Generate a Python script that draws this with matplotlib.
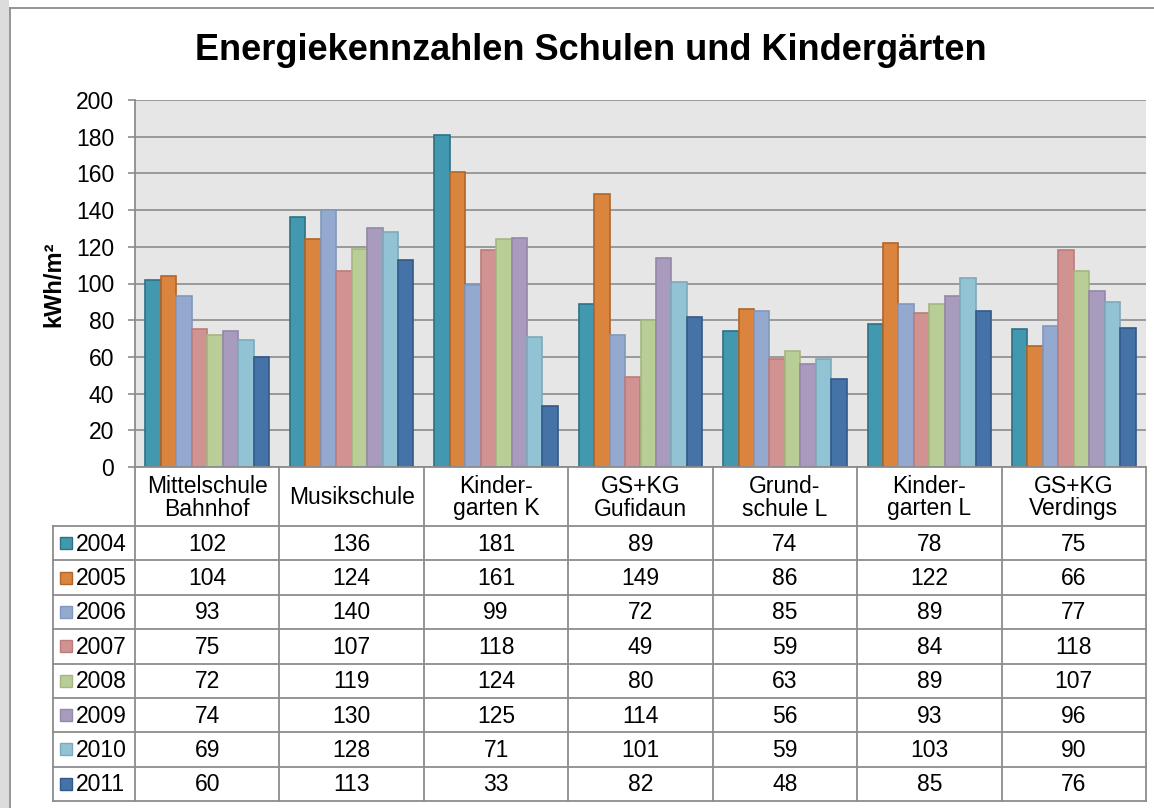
import matplotlib
matplotlib.use("Agg")
import matplotlib.pyplot as plt
from matplotlib.patches import Rectangle
from matplotlib.lines import Line2D

plt.rcParams['font.family'] = ['Liberation Sans', 'DejaVu Sans']

title = "Energiekennzahlen Schulen und Kindergärten"
ylabel = "kWh/m²"
categories = ["Mittelschule\nBahnhof", "Musikschule", "Kinder-\ngarten K", "GS+KG\nGufidaun",
              "Grund-\nschule L", "Kinder-\ngarten L", "GS+KG\nVerdings"]
years = ["2004", "2005", "2006", "2007", "2008", "2009", "2010", "2011"]
v2004 = [102, 136, 181, 89, 74, 78, 75]
v2005 = [104, 124, 161, 149, 86, 122, 66]
v2006 = [93, 140, 99, 72, 85, 89, 77]
v2007 = [75, 107, 118, 49, 59, 84, 118]
v2008 = [72, 119, 124, 80, 63, 89, 107]
v2009 = [74, 130, 125, 114, 56, 93, 96]
v2010 = [69, 128, 71, 101, 59, 103, 90]
v2011 = [60, 113, 33, 82, 48, 85, 76]
series = [v2004, v2005, v2006, v2007, v2008, v2009, v2010, v2011]
yticks = [0, 20, 40, 60, 80, 100, 120, 140, 160, 180, 200]

fills = ["#4198AF", "#DB843D", "#93A9CF", "#D19392", "#B9CD96", "#A99BBD", "#92C3D4", "#4572A7"]
edges = ["#2E7185", "#B0652A", "#8197BB", "#BA7D7C", "#A4B681", "#9587A8", "#7DAABB", "#33598A"]

W, H = 1154, 808
fig = plt.figure(figsize=(W / 100, H / 100), dpi=100)
fig.patch.set_facecolor("white")

def fx(px):
    return px / W

def fy(py):
    return 1 - py / H

# outer frame / left strip
fig.patches.append(Rectangle((0, 0), fx(9), 1, transform=fig.transFigure, facecolor="#dcdcdc",
                             edgecolor="none", zorder=0))
fig.lines.append(Line2D([fx(9.5), fx(9.5)], [0, fy(7.5)], transform=fig.transFigure, color="#8c8c8c", lw=1.3))
fig.lines.append(Line2D([fx(9.5), 1], [fy(7.5), fy(7.5)], transform=fig.transFigure, color="#8c8c8c", lw=1.3))

grid_c = "#8c8c8c"
L, R, T, B = 135, 1146, 100, 467
ax = fig.add_axes([fx(L), fy(B), fx(R) - fx(L), fy(T) - fy(B)])
ax.set_facecolor("#e6e6e6")
n = len(categories)
nb = len(series)
bw = 0.107
for k, vals in enumerate(series):
    xs = [i + (k - (nb - 1) / 2) * bw for i in range(n)]
    ax.bar(xs, vals, width=bw, color=fills[k], edgecolor=edges[k], linewidth=1.2, zorder=3)
ax.set_xlim(-0.5, n - 0.5)
ax.set_ylim(0, 200)
ax.set_yticks(yticks)
ax.set_yticklabels([str(t) for t in yticks], fontsize=16.5)
ax.tick_params(axis='y', length=5, width=1.2, color=grid_c, pad=10)
ax.set_xticks([])
ax.yaxis.grid(True, color=grid_c, lw=1.2, zorder=1)
ax.set_axisbelow(True)
for s in ["top", "right", "bottom"]:
    ax.spines[s].set_visible(False)
ax.spines["left"].set_color(grid_c)
ax.spines["left"].set_linewidth(1.3)
fig.text(fx(54), fy(284), ylabel, rotation=90, ha="center", va="center", fontsize=17, fontweight="bold")

fig.text(fx(591), fy(50), title, ha="center", va="center", fontsize=26, fontweight="bold")

# data table
tl = 53
hdr_top, hdr_bot, tbot = 467, 526, 801
rh = (tbot - hdr_bot) / nb
colw = (R - L) / n
lc = "#8c8c8c"
lw = 1.3

def hline(x0, x1, y):
    fig.lines.append(Line2D([fx(x0), fx(x1)], [fy(y), fy(y)], transform=fig.transFigure, color=lc, lw=lw))

def vline(x, y0, y1):
    fig.lines.append(Line2D([fx(x), fx(x)], [fy(y0), fy(y1)], transform=fig.transFigure, color=lc, lw=lw))

hline(L, R, hdr_top)
for r in range(nb + 1):
    hline(tl, R, hdr_bot + r * rh)
vline(tl, hdr_bot, tbot)
for c in range(n + 1):
    vline(L + c * colw, hdr_top, tbot)

for c, cat in enumerate(categories):
    fig.text(fx(L + (c + 0.5) * colw), fy((hdr_top + hdr_bot) / 2 + 1), cat, ha="center", va="center",
             fontsize=16.5, linespacing=1.0)

for r, (yr, vals) in enumerate(zip(years, series)):
    yc = hdr_bot + (r + 0.5) * rh
    fig.patches.append(Rectangle((fx(60), fy(yc + 6)), fx(12), fy(yc - 6) - fy(yc + 6), transform=fig.transFigure,
                                 facecolor=fills[r], edgecolor=edges[r], lw=1.0))
    fig.text(fx(76), fy(yc + 1), yr, ha="left", va="center", fontsize=16.5)
    for c, v in enumerate(vals):
        fig.text(fx(L + (c + 0.5) * colw), fy(yc + 1), str(v), ha="center", va="center", fontsize=16.5)

fig.savefig("out.png", dpi=100)
